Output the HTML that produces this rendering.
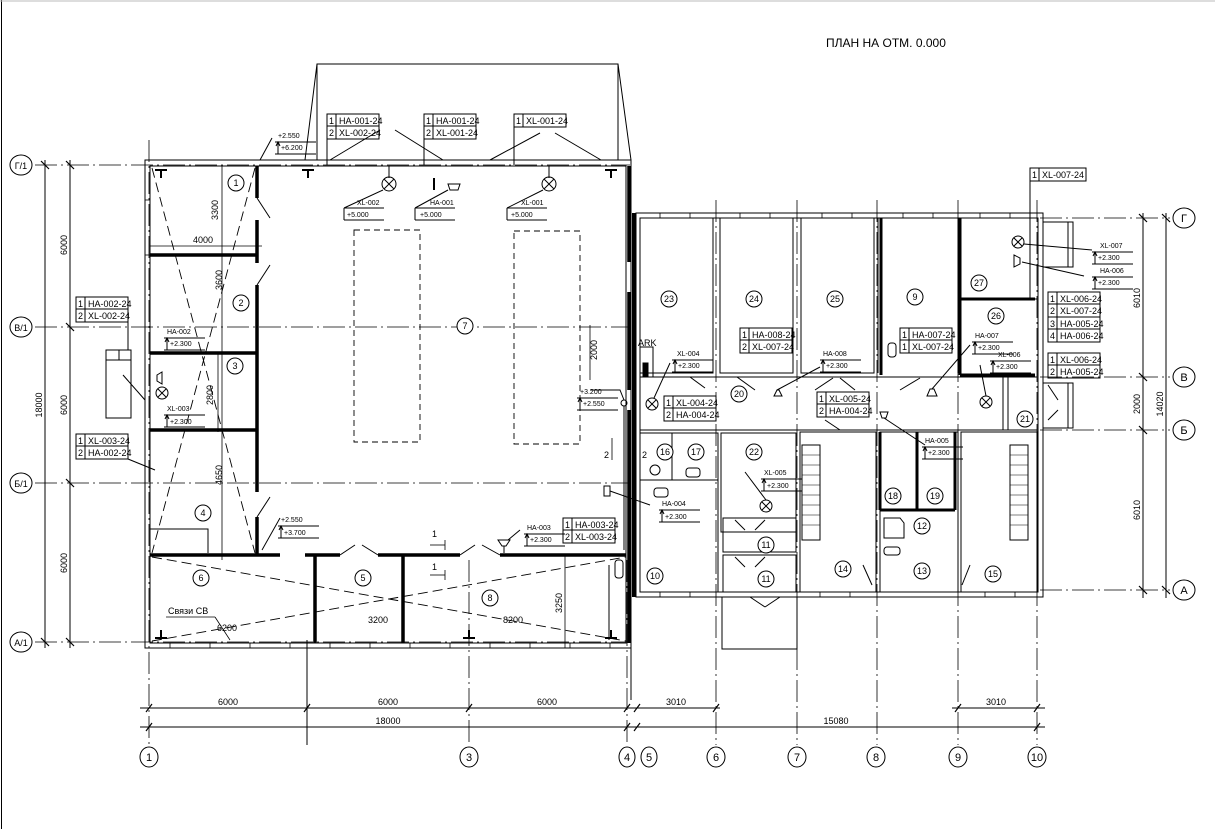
<!DOCTYPE html>
<html><head><meta charset="utf-8"><style>
html,body{margin:0;padding:0;background:#fff;}
svg{display:block;}
text{font-family:"Liberation Sans","DejaVu Sans",sans-serif;fill:#000;}
.t{font-size:9px;}
.s{font-size:7px;}
.n{font-size:11px;}
</style></head><body>
<svg width="1215" height="829" viewBox="0 0 1215 829" xmlns="http://www.w3.org/2000/svg">
<defs>
<g id="el"><line x1="-3" y1="2" x2="38" y2="2"/><line x1="-3" y1="14" x2="38" y2="14"/><line x1="0" y1="2" x2="0" y2="14"/><polyline points="-2,6 0,2 2,6"/></g>
</defs>
<rect x="0" y="0" width="1215" height="829" fill="#fff"/>
<line x1="1.5" y1="0" x2="1.5" y2="829" stroke="#000" stroke-width="1"/>
<line x1="0" y1="1" x2="1215" y2="1" stroke="#bbb" stroke-width="1"/>
<text x="826" y="47" font-size="12">ПЛАН НА ОТМ. 0.000</text>

<g stroke="#000" fill="none" stroke-width="1">
<!-- roof -->
<polyline points="305,160 317,64 618,64 631,160"/>
<line x1="317" y1="64" x2="317" y2="160"/><line x1="618" y1="64" x2="618" y2="160"/>

<!-- axes dash-dot -->
<g stroke-dasharray="22,4,2,4" stroke-width="0.8">
<line x1="35" y1="165" x2="630" y2="165"/>
<line x1="35" y1="327" x2="630" y2="327"/>
<line x1="35" y1="483" x2="630" y2="483"/>
<line x1="35" y1="642" x2="630" y2="642"/>
<line x1="1040" y1="218" x2="1170" y2="218"/>
<line x1="1040" y1="377" x2="1170" y2="377"/>
<line x1="1040" y1="430" x2="1170" y2="430"/>
<line x1="1040" y1="590" x2="1170" y2="590"/>
<line x1="149" y1="140" x2="149" y2="745"/>
<line x1="469" y1="560" x2="469" y2="745"/>
<line x1="627" y1="560" x2="627" y2="745"/>
<line x1="716" y1="200" x2="716" y2="745"/>
<line x1="797" y1="200" x2="797" y2="745"/>
<line x1="877" y1="200" x2="877" y2="745"/>
<line x1="958" y1="200" x2="958" y2="745"/>
<line x1="1037" y1="200" x2="1037" y2="745"/>
</g>
<line x1="307" y1="640" x2="307" y2="745"/>
<line x1="631" y1="648" x2="631" y2="700"/>

<!-- left building outer -->
<rect x="145" y="160" width="486" height="488"/>
<rect x="150" y="166" width="476" height="477"/>
<g stroke-width="0.8">
<rect x="170" y="643" width="40" height="5"/><rect x="250" y="643" width="40" height="5"/><rect x="330" y="643" width="40" height="5"/><rect x="410" y="643" width="40" height="5"/><rect x="490" y="643" width="40" height="5"/><rect x="570" y="643" width="40" height="5"/>
<line x1="145" y1="200" x2="150" y2="200"/><line x1="145" y1="255" x2="150" y2="255"/>
</g>
<!-- heavy walls -->
<g stroke-width="3.5">
<line x1="257" y1="166" x2="257" y2="198"/>
<line x1="257" y1="220" x2="257" y2="263"/>
<line x1="257" y1="285" x2="257" y2="492"/>
<line x1="257" y1="517" x2="257" y2="555"/>
<line x1="150" y1="255" x2="257" y2="255"/>
<line x1="150" y1="353" x2="257" y2="353"/>
<line x1="150" y1="430" x2="257" y2="430"/>
<line x1="150" y1="555" x2="280" y2="555"/>
<line x1="305" y1="555" x2="340" y2="555"/>
<line x1="378" y1="555" x2="460" y2="555"/>
<line x1="500" y1="555" x2="626" y2="555"/>
<line x1="315" y1="555" x2="315" y2="643"/>
<line x1="403" y1="555" x2="403" y2="643"/>
<line x1="629" y1="166" x2="629" y2="262"/>
<line x1="629" y1="292" x2="629" y2="390"/>
<line x1="629" y1="410" x2="629" y2="643"/>
</g>
<!-- doors -->
<line x1="257" y1="198" x2="270" y2="218"/>
<line x1="257" y1="285" x2="270" y2="265"/>
<line x1="257" y1="517" x2="270" y2="497"/>
<line x1="340" y1="555" x2="355" y2="545"/><line x1="378" y1="555" x2="362" y2="545"/>
<line x1="460" y1="555" x2="475" y2="545"/><line x1="500" y1="555" x2="482" y2="545"/>
<line x1="150" y1="166" x2="550" y2="166"/>
<line x1="330" y1="160" x2="380" y2="130"/><line x1="395" y1="130" x2="443" y2="160"/>
<line x1="490" y1="160" x2="540" y2="133"/><line x1="555" y1="133" x2="601" y2="160"/>
<line x1="389" y1="166" x2="389" y2="178"/><line x1="549" y1="166" x2="549" y2="178"/>
<line x1="327" y1="139" x2="327" y2="165"/><line x1="424" y1="139" x2="424" y2="165"/><line x1="514" y1="127" x2="514" y2="165"/>
<!-- dashed diagonals -->
<g stroke-dasharray="10,5" stroke-width="0.9">
<line x1="152" y1="168" x2="255" y2="553"/>
<line x1="255" y1="168" x2="152" y2="553"/>
<line x1="152" y1="557" x2="626" y2="641"/>
<line x1="152" y1="641" x2="626" y2="557"/>
</g>
<g stroke-dasharray="6,4" stroke-width="0.9">
<rect x="354" y="230" width="66" height="212"/>
<rect x="514" y="231" width="66" height="213"/>
</g>
<polyline points="150,529 208,529 208,553"/>
<g stroke-width="2">
<line x1="155" y1="170" x2="167" y2="170"/><line x1="161" y1="170" x2="161" y2="178"/>
<line x1="302" y1="170" x2="314" y2="170"/><line x1="308" y1="170" x2="308" y2="178"/>
<line x1="605" y1="170" x2="617" y2="170"/><line x1="611" y1="170" x2="611" y2="178"/>
<line x1="155" y1="638" x2="167" y2="638"/><line x1="161" y1="630" x2="161" y2="638"/>
<line x1="605" y1="638" x2="617" y2="638"/><line x1="611" y1="630" x2="611" y2="638"/>
<line x1="463" y1="638" x2="475" y2="638"/><line x1="469" y1="630" x2="469" y2="638"/>
<line x1="434" y1="178" x2="434" y2="190"/>
</g>
<!-- fixtures room 7 -->
<circle cx="389" cy="184" r="7"/><line x1="384" y1="179" x2="394" y2="189"/><line x1="394" y1="179" x2="384" y2="189"/>
<circle cx="549" cy="184" r="7"/><line x1="544" y1="179" x2="554" y2="189"/><line x1="554" y1="179" x2="544" y2="189"/>
<polygon points="450,190 458,190 460,184 448,184"/>
<line x1="383" y1="190" x2="344" y2="208"/><line x1="344" y1="208" x2="344" y2="220"/><line x1="344" y1="208" x2="384" y2="208"/><line x1="344" y1="220" x2="384" y2="220"/>
<line x1="448" y1="190" x2="415" y2="208"/><line x1="415" y1="208" x2="415" y2="220"/><line x1="415" y1="208" x2="455" y2="208"/><line x1="415" y1="220" x2="455" y2="220"/>
<line x1="543" y1="190" x2="507" y2="208"/><line x1="507" y1="208" x2="507" y2="220"/><line x1="507" y1="208" x2="547" y2="208"/><line x1="507" y1="220" x2="547" y2="220"/>
<!-- left side fixtures -->
<circle cx="162" cy="393" r="6"/><line x1="158" y1="389" x2="166" y2="397"/><line x1="166" y1="389" x2="158" y2="397"/>
<polygon points="157,375 162,372 162,384 157,381"/>
<rect x="106" y="350" width="25" height="68"/><line x1="106" y1="360" x2="131" y2="360"/><line x1="119" y1="350" x2="119" y2="360"/>
<line x1="123" y1="375" x2="145" y2="400"/>
<line x1="128" y1="322" x2="128" y2="350"/><line x1="128" y1="459" x2="155" y2="470"/>
<!-- right side of left bldg -->
<line x1="609" y1="565" x2="609" y2="640"/>
<rect x="615" y="560" width="8" height="18" rx="3"/>
<polygon points="604,486 610,486 610,496 604,496"/>
<line x1="610" y1="491" x2="650" y2="505"/>
<polyline points="590,390 620,390 624,400"/>
<circle cx="624" cy="403" r="3"/>
<line x1="624" y1="406" x2="624" y2="550"/>
<polygon points="498,540 510,540 506,546 502,546"/>
<line x1="504" y1="546" x2="504" y2="553"/>
<line x1="508" y1="540" x2="520" y2="530"/>
<line x1="262" y1="550" x2="280" y2="518"/>
<line x1="260" y1="160" x2="272" y2="138"/>

<!-- RIGHT BUILDING -->
<rect x="636" y="213" width="407" height="384"/>
<rect x="640" y="218" width="398" height="374"/>
<line x1="634" y1="213" x2="634" y2="597" stroke-width="4"/>
<g stroke-width="0.8">
<rect x="660" y="213" width="30" height="5"/><rect x="740" y="213" width="30" height="5"/><rect x="822" y="213" width="30" height="5"/><rect x="903" y="213" width="30" height="5"/><rect x="980" y="213" width="30" height="5"/>
<rect x="660" y="592" width="30" height="5"/><rect x="820" y="592" width="30" height="5"/><rect x="985" y="592" width="30" height="5"/>
</g>
<rect x="640" y="218" width="73" height="155"/>
<rect x="720" y="218" width="73" height="155"/>
<rect x="801" y="218" width="73" height="155"/>
<line x1="878" y1="218" x2="878" y2="373"/>
<line x1="958" y1="218" x2="958" y2="373"/>
<line x1="958" y1="299" x2="1037" y2="299"/>
<g stroke-width="3">
<line x1="881" y1="218" x2="881" y2="375"/>
<line x1="960" y1="218" x2="960" y2="375"/>
<line x1="960" y1="299" x2="1035" y2="299"/>
<line x1="960" y1="375" x2="1035" y2="375"/>
</g>
<line x1="640" y1="377" x2="1037" y2="377"/>
<line x1="640" y1="430" x2="1037" y2="430"/>
<line x1="1003" y1="377" x2="1003" y2="430"/>
<line x1="1008" y1="377" x2="1008" y2="430"/>
<rect x="640" y="433" width="78" height="159"/>
<rect x="721" y="433" width="75" height="99"/>
<rect x="723" y="518" width="73" height="34"/>
<rect x="723" y="555" width="73" height="37"/>
<rect x="800" y="432" width="76" height="160"/>
<rect x="880" y="432" width="78" height="160"/>
<rect x="961" y="432" width="76" height="160"/>
<g stroke-width="3">
<line x1="880" y1="432" x2="880" y2="510"/>
<line x1="917" y1="432" x2="917" y2="510"/>
<line x1="955" y1="432" x2="955" y2="510"/>
<line x1="880" y1="510" x2="955" y2="510"/>
</g>
<line x1="640" y1="480" x2="718" y2="480"/>
<line x1="672" y1="433" x2="672" y2="480"/>
<rect x="802" y="445" width="18" height="95"/>
<rect x="1010" y="445" width="18" height="95"/>
<g stroke-width="0.6">
<line x1="802" y1="455" x2="820" y2="455"/><line x1="802" y1="465" x2="820" y2="465"/><line x1="802" y1="475" x2="820" y2="475"/><line x1="802" y1="485" x2="820" y2="485"/><line x1="802" y1="495" x2="820" y2="495"/><line x1="802" y1="505" x2="820" y2="505"/><line x1="802" y1="515" x2="820" y2="515"/><line x1="802" y1="525" x2="820" y2="525"/>
<line x1="1010" y1="455" x2="1028" y2="455"/><line x1="1010" y1="465" x2="1028" y2="465"/><line x1="1010" y1="475" x2="1028" y2="475"/><line x1="1010" y1="485" x2="1028" y2="485"/><line x1="1010" y1="495" x2="1028" y2="495"/><line x1="1010" y1="505" x2="1028" y2="505"/><line x1="1010" y1="515" x2="1028" y2="515"/><line x1="1010" y1="525" x2="1028" y2="525"/>
</g>
<line x1="690" y1="377" x2="705" y2="388"/><line x1="737" y1="377" x2="755" y2="390"/>
<line x1="815" y1="390" x2="833" y2="378"/><line x1="840" y1="378" x2="855" y2="390"/>
<line x1="900" y1="390" x2="920" y2="378"/><line x1="840" y1="430" x2="825" y2="420"/>
<line x1="735" y1="520" x2="745" y2="530"/><line x1="755" y1="530" x2="765" y2="520"/>
<line x1="735" y1="557" x2="745" y2="567"/><line x1="755" y1="567" x2="765" y2="557"/>
<line x1="750" y1="597" x2="765" y2="607"/><line x1="765" y1="607" x2="780" y2="597"/>
<line x1="863" y1="565" x2="872" y2="585"/><line x1="970" y1="565" x2="962" y2="585"/>
<line x1="1048" y1="385" x2="1058" y2="400"/><line x1="1058" y1="410" x2="1048" y2="420"/>
<rect x="1043" y="222" width="30" height="45"/><rect x="1068" y="222" width="5" height="45"/>
<rect x="1043" y="383" width="30" height="45"/><rect x="1068" y="383" width="5" height="45"/>
<rect x="722" y="597" width="75" height="52"/>
<circle cx="1018" cy="242" r="6"/><line x1="1014" y1="238" x2="1022" y2="246"/><line x1="1022" y1="238" x2="1014" y2="246"/>
<polygon points="1014,255 1020,258 1020,264 1014,267"/>
<line x1="1024" y1="244" x2="1092" y2="250"/><line x1="1022" y1="262" x2="1084" y2="276"/>
<circle cx="652" cy="404" r="6"/><line x1="648" y1="400" x2="656" y2="408"/><line x1="656" y1="400" x2="648" y2="408"/>
<circle cx="986" cy="402" r="6"/><line x1="982" y1="398" x2="990" y2="406"/><line x1="990" y1="398" x2="982" y2="406"/>
<circle cx="766" cy="506" r="6"/><line x1="762" y1="502" x2="770" y2="510"/><line x1="770" y1="502" x2="762" y2="510"/>
<polygon points="774,396 782,396 779,390 777,390"/>
<polygon points="927,396 937,396 934,389 930,389"/>
<polygon points="880,412 888,412 886,418 882,418"/>
<line x1="777" y1="390" x2="820" y2="367"/><line x1="932" y1="389" x2="970" y2="345"/>
<line x1="654" y1="398" x2="670" y2="363"/><line x1="986" y1="396" x2="980" y2="365"/>
<line x1="766" y1="500" x2="745" y2="472"/><line x1="884" y1="418" x2="925" y2="445"/>
<polygon points="884,518 900,518 904,523 904,538 884,538"/>
<rect x="884" y="547" width="16" height="8" rx="3"/>
<rect x="654" y="488" width="14" height="9" rx="3"/>
<rect x="686" y="468" width="14" height="9" rx="3"/>
<circle cx="655" cy="470" r="5"/>
<rect x="888" y="343" width="8" height="14" rx="3"/>
<rect x="640" y="347" width="13" height="30"/>
<rect x="643" y="363" width="5" height="13" fill="#000"/>

<!-- elevation label frames -->
<use href="#el" x="167" y="336"/><use href="#el" x="167" y="413"/>
<use href="#el" x="281" y="524"/><use href="#el" x="278" y="140"/>
<use href="#el" x="580" y="396"/><use href="#el" x="527" y="532"/>
<use href="#el" x="675" y="358"/><use href="#el" x="823" y="358"/>
<use href="#el" x="975" y="340"/><use href="#el" x="993" y="359"/>
<use href="#el" x="764" y="477"/><use href="#el" x="662" y="508"/>
<use href="#el" x="925" y="445"/><use href="#el" x="1095" y="250"/><use href="#el" x="1095" y="275"/>
</g>

<g class="s">
<text x="357" y="205">XL-002</text><text x="347" y="217">+5.000</text>
<text x="430" y="205">HA-001</text><text x="420" y="217">+5.000</text>
<text x="521" y="205">XL-001</text><text x="511" y="217">+5.000</text>
<text x="167" y="334">HA-002</text><text x="170" y="346">+2.300</text>
<text x="167" y="411">XL-003</text><text x="170" y="424">+2.300</text>
<text x="281" y="522">+2.550</text><text x="284" y="535">+3.700</text>
<text x="278" y="138">+2.550</text><text x="281" y="150">+6.200</text>
<text x="580" y="394">+3.200</text><text x="583" y="406">+2.550</text>
<text x="527" y="530">HA-003</text><text x="530" y="542">+2.300</text>
<text x="677" y="356">XL-004</text><text x="678" y="368">+2.300</text>
<text x="823" y="356">HA-008</text><text x="826" y="368">+2.300</text>
<text x="975" y="338">HA-007</text><text x="978" y="350">+2.300</text>
<text x="998" y="357">XL-006</text><text x="996" y="369">+2.300</text>
<text x="764" y="475">XL-005</text><text x="767" y="488">+2.300</text>
<text x="662" y="506">HA-004</text><text x="665" y="519">+2.300</text>
<text x="925" y="443">HA-005</text><text x="928" y="455">+2.300</text>
<text x="1100" y="248">XL-007</text><text x="1098" y="260">+2.300</text>
<text x="1100" y="273">HA-006</text><text x="1098" y="285">+2.300</text>
</g>

<g stroke="#000" fill="none" stroke-width="1">
<rect x="327" y="114" width="52" height="25"/><line x1="327" y1="126" x2="379" y2="126"/><line x1="336" y1="114" x2="336" y2="139"/>
<rect x="424" y="114" width="52" height="25"/><line x1="424" y1="126" x2="476" y2="126"/><line x1="433" y1="114" x2="433" y2="139"/>
<rect x="514" y="114" width="52" height="13"/><line x1="523" y1="114" x2="523" y2="127"/>
<rect x="76" y="297" width="52" height="25"/><line x1="76" y1="309" x2="128" y2="309"/><line x1="85" y1="297" x2="85" y2="322"/>
<rect x="76" y="434" width="52" height="25"/><line x1="76" y1="446" x2="128" y2="446"/><line x1="85" y1="434" x2="85" y2="459"/>
<rect x="563" y="518" width="52" height="25"/><line x1="563" y1="530" x2="615" y2="530"/><line x1="572" y1="518" x2="572" y2="543"/>
<rect x="664" y="396" width="52" height="25"/><line x1="664" y1="408" x2="716" y2="408"/><line x1="673" y1="396" x2="673" y2="421"/>
<rect x="740" y="328" width="52" height="25"/><line x1="740" y1="340" x2="792" y2="340"/><line x1="749" y1="328" x2="749" y2="353"/>
<rect x="817" y="392" width="52" height="25"/><line x1="817" y1="404" x2="869" y2="404"/><line x1="826" y1="392" x2="826" y2="417"/>
<rect x="900" y="328" width="52" height="25"/><line x1="900" y1="340" x2="952" y2="340"/><line x1="909" y1="328" x2="909" y2="353"/>
<rect x="1048" y="292" width="52" height="50"/><line x1="1048" y1="304" x2="1100" y2="304"/><line x1="1048" y1="317" x2="1100" y2="317"/><line x1="1048" y1="329" x2="1100" y2="329"/><line x1="1057" y1="292" x2="1057" y2="342"/>
<rect x="1048" y="353" width="52" height="25"/><line x1="1048" y1="365" x2="1100" y2="365"/><line x1="1057" y1="353" x2="1057" y2="378"/>
<rect x="1030" y="168" width="56" height="13"/><line x1="1039" y1="168" x2="1039" y2="181"/>
<line x1="1030" y1="181" x2="1030" y2="300"/>
</g>
<g class="t">
<text x="329" y="124">1</text><text x="339" y="124">HA-001-24</text><text x="329" y="136">2</text><text x="339" y="136">XL-002-24</text>
<text x="426" y="124">1</text><text x="436" y="124">HA-001-24</text><text x="426" y="136">2</text><text x="436" y="136">XL-001-24</text>
<text x="516" y="124">1</text><text x="526" y="124">XL-001-24</text>
<text x="78" y="307">1</text><text x="88" y="307">HA-002-24</text><text x="78" y="319">2</text><text x="88" y="319">XL-002-24</text>
<text x="78" y="444">1</text><text x="88" y="444">XL-003-24</text><text x="78" y="456">2</text><text x="88" y="456">HA-002-24</text>
<text x="565" y="528">1</text><text x="575" y="528">HA-003-24</text><text x="565" y="540">2</text><text x="575" y="540">XL-003-24</text>
<text x="666" y="406">1</text><text x="676" y="406">XL-004-24</text><text x="666" y="418">2</text><text x="676" y="418">HA-004-24</text>
<text x="742" y="338">1</text><text x="752" y="338">HA-008-24</text><text x="742" y="350">2</text><text x="752" y="350">XL-007-24</text>
<text x="819" y="402">1</text><text x="829" y="402">XL-005-24</text><text x="819" y="414">2</text><text x="829" y="414">HA-004-24</text>
<text x="902" y="338">1</text><text x="912" y="338">HA-007-24</text><text x="902" y="350">1</text><text x="912" y="350">XL-007-24</text>
<text x="1050" y="302">1</text><text x="1060" y="302">XL-006-24</text><text x="1050" y="314">2</text><text x="1060" y="314">XL-007-24</text><text x="1050" y="327">3</text><text x="1060" y="327">HA-005-24</text><text x="1050" y="339">4</text><text x="1060" y="339">HA-006-24</text>
<text x="1050" y="363">1</text><text x="1060" y="363">XL-006-24</text><text x="1050" y="375">2</text><text x="1060" y="375">HA-005-24</text>
<text x="1032" y="178">1</text><text x="1042" y="178">XL-007-24</text>
<text x="638" y="346">ARK</text>
</g>

<g stroke="#000" fill="#fff" stroke-width="1">
<circle cx="236" cy="183" r="8"/><circle cx="241" cy="303" r="8"/><circle cx="235" cy="366" r="8"/><circle cx="203" cy="513" r="8"/>
<circle cx="465" cy="326" r="8"/><circle cx="201" cy="578" r="8"/><circle cx="363" cy="578" r="8"/><circle cx="490" cy="598" r="8"/>
<circle cx="669" cy="299" r="8"/><circle cx="754" cy="299" r="8"/><circle cx="835" cy="299" r="8"/><circle cx="915" cy="297" r="8"/>
<circle cx="979" cy="283" r="8"/><circle cx="996" cy="316" r="8"/><circle cx="739" cy="394" r="8"/><circle cx="1025" cy="419" r="8"/>
<circle cx="754" cy="452" r="8"/><circle cx="665" cy="452" r="8"/><circle cx="696" cy="452" r="8"/><circle cx="655" cy="576" r="8"/>
<circle cx="766" cy="545" r="8"/><circle cx="766" cy="579" r="8"/><circle cx="843" cy="569" r="8"/><circle cx="922" cy="571" r="8"/>
<circle cx="993" cy="574" r="8"/><circle cx="893" cy="496" r="8"/><circle cx="935" cy="496" r="8"/><circle cx="922" cy="526" r="8"/>
</g>
<g class="t" text-anchor="middle">
<text x="236" y="186">1</text><text x="241" y="306">2</text><text x="235" y="369">3</text><text x="203" y="516">4</text>
<text x="465" y="329">7</text><text x="201" y="581">6</text><text x="363" y="581">5</text><text x="490" y="601">8</text>
<text x="669" y="302">23</text><text x="754" y="302">24</text><text x="835" y="302">25</text><text x="915" y="300">9</text>
<text x="979" y="286">27</text><text x="996" y="319">26</text><text x="739" y="397">20</text><text x="1025" y="422">21</text>
<text x="754" y="455">22</text><text x="665" y="455">16</text><text x="696" y="455">17</text><text x="655" y="579">10</text>
<text x="766" y="548">11</text><text x="766" y="582">11</text><text x="843" y="572">14</text><text x="922" y="574">13</text>
<text x="993" y="577">15</text><text x="893" y="499">18</text><text x="935" y="499">19</text><text x="922" y="529">12</text>
</g>

<g stroke="#000" stroke-width="0.8">
<line x1="150" y1="246" x2="262" y2="246"/><line x1="222" y1="166" x2="222" y2="560"/>
<line x1="218" y1="353" x2="218" y2="432"/>
<line x1="590" y1="325" x2="590" y2="380"/>
<line x1="565" y1="648" x2="565" y2="555"/>
<line x1="430" y1="545" x2="445" y2="545"/><line x1="445" y1="540" x2="445" y2="550"/>
<line x1="430" y1="575" x2="445" y2="575"/><line x1="445" y1="570" x2="445" y2="580"/>
<line x1="612" y1="438" x2="612" y2="460"/>
<line x1="166" y1="617" x2="215" y2="617"/><line x1="215" y1="617" x2="230" y2="640"/>
</g>
<g class="t">
<text x="193" y="243">4000</text>
<text transform="translate(218,220) rotate(-90)">3300</text>
<text transform="translate(222,290) rotate(-90)">3600</text>
<text transform="translate(213,405) rotate(-90)">2800</text>
<text transform="translate(222,485) rotate(-90)">4650</text>
<text transform="translate(597,360) rotate(-90)">2000</text>
<text transform="translate(562,613) rotate(-90)">3250</text>
<text x="217" y="631">6200</text><text x="368" y="623">3200</text><text x="503" y="623">8200</text>
<text x="168" y="614">Связи СВ</text>
<text x="432" y="537">1</text><text x="432" y="570">1</text><text x="604" y="458">2</text><text x="642" y="458">2</text>
</g>

<g stroke="#000" stroke-width="1">
<line x1="140" y1="708" x2="640" y2="708"/><line x1="140" y1="727" x2="1045" y2="727"/>
<line x1="630" y1="708" x2="720" y2="708"/><line x1="952" y1="708" x2="1045" y2="708"/>
<line x1="45" y1="160" x2="45" y2="648"/><line x1="70" y1="160" x2="70" y2="648"/>
<line x1="1143" y1="213" x2="1143" y2="598"/><line x1="1166" y1="213" x2="1166" y2="598"/>
<g stroke-width="1.2">
<line x1="146" y1="712" x2="152" y2="704"/><line x1="304" y1="712" x2="310" y2="704"/><line x1="466" y1="712" x2="472" y2="704"/><line x1="624" y1="712" x2="630" y2="704"/><line x1="634" y1="712" x2="640" y2="704"/><line x1="713" y1="712" x2="719" y2="704"/><line x1="955" y1="712" x2="961" y2="704"/><line x1="1034" y1="712" x2="1040" y2="704"/>
<line x1="146" y1="731" x2="152" y2="723"/><line x1="624" y1="731" x2="630" y2="723"/><line x1="634" y1="731" x2="640" y2="723"/><line x1="1034" y1="731" x2="1040" y2="723"/>
<line x1="41" y1="161" x2="49" y2="169"/><line x1="41" y1="638" x2="49" y2="646"/>
<line x1="66" y1="161" x2="74" y2="169"/><line x1="66" y1="323" x2="74" y2="331"/><line x1="66" y1="479" x2="74" y2="487"/><line x1="66" y1="638" x2="74" y2="646"/>
<line x1="1139" y1="214" x2="1147" y2="222"/><line x1="1139" y1="373" x2="1147" y2="381"/><line x1="1139" y1="426" x2="1147" y2="434"/><line x1="1139" y1="586" x2="1147" y2="594"/>
<line x1="1162" y1="214" x2="1170" y2="222"/><line x1="1162" y1="586" x2="1170" y2="594"/>
</g>
</g>
<g class="t" text-anchor="middle">
<text x="228" y="705">6000</text><text x="388" y="705">6000</text><text x="547" y="705">6000</text>
<text x="388" y="724">18000</text><text x="676" y="705">3010</text><text x="996" y="705">3010</text><text x="836" y="724">15080</text>
<text transform="translate(67,245) rotate(-90)">6000</text>
<text transform="translate(67,405) rotate(-90)">6000</text>
<text transform="translate(67,563) rotate(-90)">6000</text>
<text transform="translate(42,405) rotate(-90)">18000</text>
<text transform="translate(1140,298) rotate(-90)">6010</text>
<text transform="translate(1140,404) rotate(-90)">2000</text>
<text transform="translate(1140,510) rotate(-90)">6010</text>
<text transform="translate(1163,404) rotate(-90)">14020</text>
</g>

<g stroke="#000" fill="#fff" stroke-width="1">
<ellipse cx="149" cy="757" rx="9" ry="10"/><ellipse cx="469" cy="757" rx="9" ry="10"/><ellipse cx="627" cy="757" rx="8" ry="10"/><ellipse cx="649" cy="757" rx="8" ry="10"/>
<ellipse cx="716" cy="757" rx="9" ry="10"/><ellipse cx="797" cy="757" rx="9" ry="10"/><ellipse cx="876" cy="757" rx="9" ry="10"/><ellipse cx="958" cy="757" rx="9" ry="10"/><ellipse cx="1037" cy="757" rx="9" ry="10"/>
<ellipse cx="21" cy="165" rx="11" ry="10"/><ellipse cx="21" cy="327" rx="11" ry="10"/><ellipse cx="21" cy="483" rx="11" ry="10"/><ellipse cx="21" cy="642" rx="11" ry="10"/>
<ellipse cx="1184" cy="218" rx="11" ry="10"/><ellipse cx="1184" cy="377" rx="11" ry="10"/><ellipse cx="1184" cy="430" rx="11" ry="10"/><ellipse cx="1184" cy="590" rx="11" ry="10"/>
</g>
<g class="n" text-anchor="middle">
<text x="149" y="761">1</text><text x="469" y="761">3</text><text x="627" y="761">4</text><text x="649" y="761">5</text>
<text x="716" y="761">6</text><text x="797" y="761">7</text><text x="876" y="761">8</text><text x="958" y="761">9</text><text x="1037" y="761">10</text>
<text x="21" y="169" font-size="9">Г/1</text><text x="21" y="331" font-size="9">В/1</text><text x="21" y="487" font-size="9">Б/1</text><text x="21" y="646" font-size="9">А/1</text>
<text x="1184" y="222">Г</text><text x="1184" y="381">В</text><text x="1184" y="434">Б</text><text x="1184" y="594">А</text>
</g>
</svg>
</body></html>
